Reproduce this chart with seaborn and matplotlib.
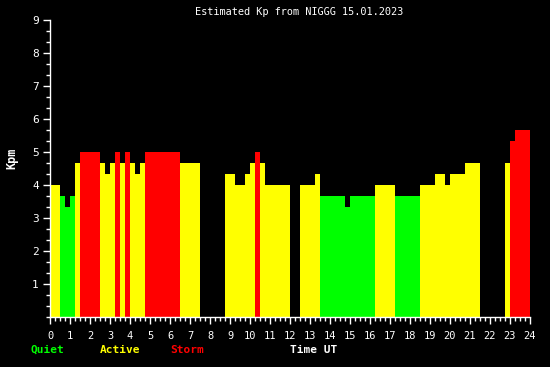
import numpy as np
import pandas as pd
import matplotlib
matplotlib.use("Agg")
import matplotlib.pyplot as plt
from matplotlib.ticker import MultipleLocator
import seaborn as sns

# 15-minute bins, Kp values (None = no data)
kp = [
    4.0, 4.0, 3.67, 3.33, 3.67, 4.67, 5.0, 5.0,            # 0.00-2.00
    5.0, 5.0, 4.67, 4.33, 4.67, 5.0, 4.67, 5.0,            # 2.00-4.00
    4.67, 4.33, 4.67, 5.0, 5.0, 5.0, 5.0, 5.0,             # 4.00-6.00
    5.0, 5.0, 4.67, 4.67, 4.67, 4.67, None, None,          # 6.00-8.00
    None, None, None, 4.33, 4.33, 4.0, 4.0, 4.33,          # 8.00-10.00
    4.67, 5.0, 4.67, 4.0, 4.0, 4.0, 4.0, 4.0,              # 10.00-12.00
    None, None, 4.0, 4.0, 4.0, 4.33, 3.67, 3.67,           # 12.00-14.00
    3.67, 3.67, 3.67, 3.33, 3.67, 3.67, 3.67, 3.67,        # 14.00-16.00
    3.67, 4.0, 4.0, 4.0, 4.0, 3.67, 3.67, 3.67,            # 16.00-18.00
    3.67, 3.67, 4.0, 4.0, 4.0, 4.33, 4.33, 4.0,            # 18.00-20.00
    4.33, 4.33, 4.33, 4.67, 4.67, 4.67, None, None,        # 20.00-22.00
    None, None, None, 4.67, 5.33, 5.67, 5.67, 5.67,        # 22.00-24.00
]
levels = ["Quiet", "Active", "Storm"]
level_colors = ["#00ff00", "#ffff00", "#ff0000"]
x_ticks = list(range(0, 25))
y_ticks = list(range(1, 10))
title = "Estimated Kp from NIGGG 15.01.2023"

t = np.arange(len(kp)) * 0.25 + 0.125
df = pd.DataFrame({"t": t, "kp": kp}).dropna()
df["level"] = np.where(df["kp"] >= 5, "Storm", np.where(df["kp"] >= 4, "Active", "Quiet"))

fig = plt.figure(figsize=(5.5, 3.67), dpi=100, facecolor="black")
ax = fig.add_axes([50/550, 1-317/367, 480/550, (317-20)/367])
ax.set_facecolor("black")

sns.histplot(data=df, x="t", weights="kp", hue="level", hue_order=levels,
             palette=dict(zip(levels, level_colors)), binwidth=0.25, binrange=(0, 24),
             element="bars", multiple="layer", alpha=1, linewidth=0, legend=False, ax=ax)

ax.set_xlim(0, 24)
ax.set_ylim(0, 9)
for s in ["top", "right"]:
    ax.spines[s].set_visible(False)
for s in ["left", "bottom"]:
    ax.spines[s].set_color("white")
    ax.spines[s].set_linewidth(1)
ax.set_xticks(x_ticks)
ax.set_yticks(y_ticks)
ax.xaxis.set_minor_locator(MultipleLocator(0.25))
ax.yaxis.set_minor_locator(MultipleLocator(1/3))
mono = "DejaVu Sans Mono"
ax.tick_params(which="major", colors="white", length=5, width=1, labelsize=7.5)
ax.tick_params(axis="x", which="major", pad=5)
ax.tick_params(axis="y", which="major", pad=3, labelsize=8)
ax.tick_params(which="minor", colors="white", length=3, width=1)
for lab in ax.get_xticklabels() + ax.get_yticklabels():
    lab.set_fontfamily(mono)
ax.set_xlabel("")
ax.set_ylabel("")

fig.text(299/550, 1-12/367, title, color="white", family=mono, fontsize=7.4,
         ha="center", va="center")
fig.text(12/550, 1-158/367, "Kpm", color="white", family=mono, fontsize=8.5,
         fontweight="bold", rotation=90, ha="center", va="center")
for name, col, xc in zip(levels, level_colors, [47, 120, 187]):
    fig.text(xc/550, 1-350/367, name, color=col, family=mono, fontsize=8,
             fontweight="bold", ha="center", va="center")
fig.text(314/550, 1-350/367, "Time UT", color="white", family=mono, fontsize=8,
         fontweight="bold", ha="center", va="center")

fig.savefig("out.png", dpi=100, facecolor="black")
